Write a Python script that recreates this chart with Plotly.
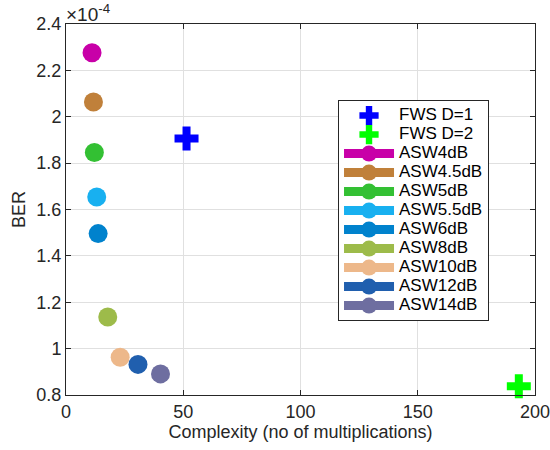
import plotly.graph_objects as go

# Data (BER in units of 1e-4)
fws_names = ["FWS D=1", "FWS D=2"]
fws_x = [51.4, 193.1]
fws_ber = [1.906, 0.838]
fws_colors = ["#0000FF", "#00FF00"]

asw_names = ["ASW4dB", "ASW4.5dB", "ASW5dB", "ASW5.5dB", "ASW6dB",
             "ASW8dB", "ASW10dB", "ASW12dB", "ASW14dB"]
asw_x = [11.1, 11.7, 12.1, 13.1, 13.7, 17.8, 23.1, 30.7, 40.3]
asw_ber = [2.276, 2.064, 1.846, 1.654, 1.496, 1.136, 0.963, 0.932, 0.891]
asw_colors = ["#C800A8", "#C0803A", "#33C033", "#18B0F0", "#0082CD",
              "#9DBB4A", "#EDB88A", "#205FAE", "#6E6EA0"]

scale = 1e-4
y_ticks = [0.8, 1.0, 1.2, 1.4, 1.6, 1.8, 2.0, 2.2, 2.4]
y_tick_text = ["0.8", "1", "1.2", "1.4", "1.6", "1.8", "2", "2.2", "2.4"]
x_ticks = [0, 50, 100, 150, 200]

FONT = "Liberation Sans, Arial, sans-serif"


def leg(name):
    # larger glyphs in a compact legend row
    return '<span style="font-size:17px">' + name + '</span>'


fig = go.Figure()
for n, x, y, c in zip(fws_names, fws_x, fws_ber, fws_colors):
    fig.add_trace(go.Scatter(
        x=[x], y=[y * scale], name=leg(n), mode="markers",
        marker=dict(symbol="cross", size=20, color=c, line=dict(width=0)),
        cliponaxis=False,
    ))
for n, x, y, c in zip(asw_names, asw_x, asw_ber, asw_colors):
    fig.add_trace(go.Scatter(
        x=[x], y=[y * scale], name=leg(n), mode="lines+markers",
        line=dict(color=c, width=9),
        marker=dict(symbol="circle", size=19, color=c, line=dict(width=0)),
    ))

fig.update_layout(
    width=550, height=450,
    margin=dict(l=66, r=15, t=24, b=55),
    paper_bgcolor="white", plot_bgcolor="white",
    font=dict(family=FONT, size=18, color="#262626"),
    showlegend=True,
    legend=dict(
        x=0.58, y=0.795, xanchor="left", yanchor="top",
        bgcolor="white", bordercolor="#262626", borderwidth=1,
        font=dict(family=FONT, size=12, color="black"),
        tracegroupgap=0, itemsizing="trace", itemwidth=50,
    ),
    xaxis=dict(
        range=[0, 200], tickvals=x_ticks, automargin=False,
        ticklabeloverflow="allow",
        showgrid=True, gridcolor="#E0E0E0", gridwidth=1,
        showline=True, linecolor="#262626", linewidth=1, mirror="ticks",
        ticks="inside", ticklen=5, tickcolor="#262626",
        zeroline=False,
        title=dict(text="Complexity (no of multiplications)", standoff=2,
                   font=dict(size=18)),
        tickfont=dict(size=18),
    ),
    yaxis=dict(
        range=[0.8 * scale, 2.4 * scale], automargin=False,
        ticklabeloverflow="allow",
        tickvals=[v * scale for v in y_ticks], ticktext=y_tick_text,
        showgrid=True, gridcolor="#E0E0E0", gridwidth=1,
        showline=True, linecolor="#262626", linewidth=1, mirror="ticks",
        ticks="inside", ticklen=5, tickcolor="#262626",
        zeroline=False,
        title=dict(text="BER", standoff=6, font=dict(size=18)),
        tickfont=dict(size=18),
    ),
    annotations=[dict(
        text="×10<sup>-4</sup>", xref="paper", yref="paper",
        x=-0.005, y=1.0, xanchor="left", yanchor="bottom", yshift=-3,
        showarrow=False, font=dict(family=FONT, size=19, color="#262626"),
    )],
)

fig.write_html("out.html")
